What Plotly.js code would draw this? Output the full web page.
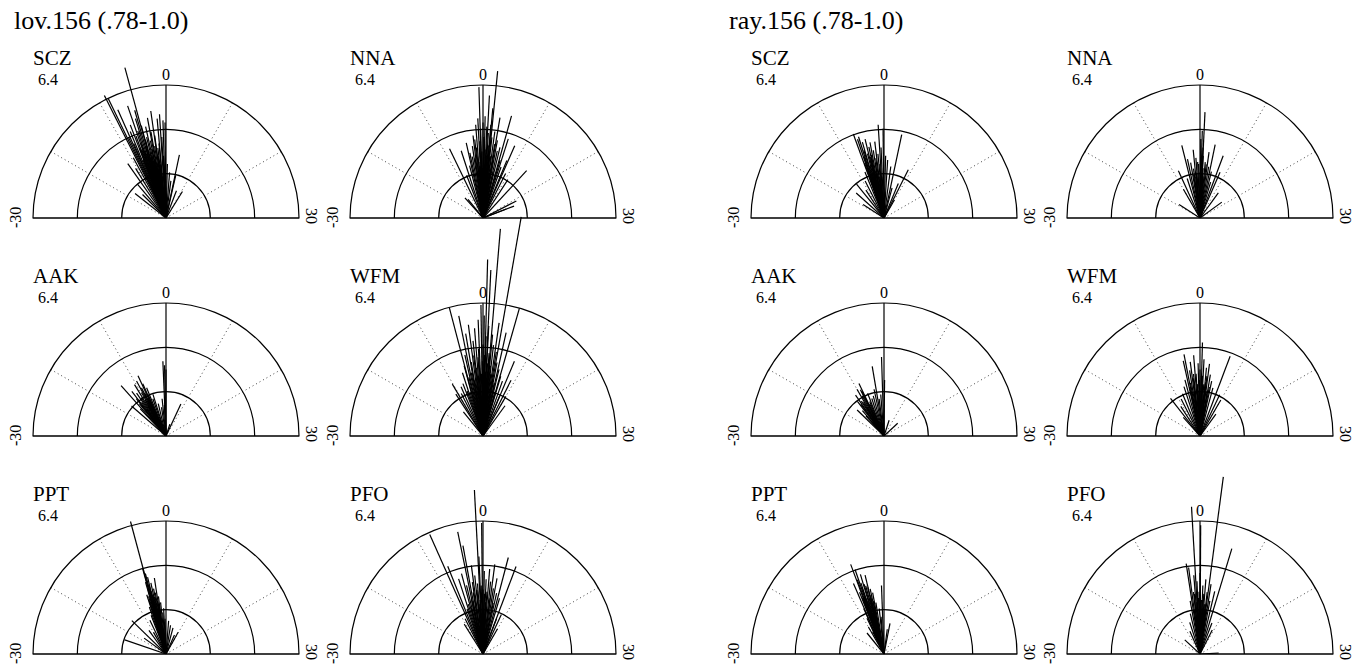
<!DOCTYPE html>
<html>
<head>
<meta charset="utf-8">
<script src="https://cdn.plot.ly/plotly-3.0.1.min.js"></script>
<style>html,body{margin:0;padding:0;background:#fff;}#chart{width:1366px;height:667px;}</style>
</head>
<body>
<div id="chart"></div>
<script>
// ---------------- data ----------------
const groupTitles = ['lov.156 (.78-1.0)', 'ray.156 (.78-1.0)'];
const stationRows = [['SCZ', 'NNA'], ['AAK', 'WFM'], ['PPT', 'PFO']];
const angleGrid = [-20, -10, 10, 20];
const angleTickLabels = ['-30', '0', '30'];
const scaleLabel = '6.4';
const RMAX = 6.4;

// lov panels: stick angle (deg, -30..30) and length
const lovSCZ_ang = [-5.1,-8.9,-8.6,-8.0,-6.3,-5.4,-1.2,-0.6,-0.2,-1.7,-7.5,-7.0,-6.7,-6.0,-5.7,-5.0,-4.5,-4.2,-3.8,-3.3,-3.0,-2.6,-2.2,-1.8,-7.8,-8.3,-6.5,-5.5,-4.8,-4.0,-9.5,-10.5,-11.7,-13.4,-17.2,-15.0,-0.8,0.5,1.5,4.0,4.3,10.6,7.0,2.5,-1.0,-2.0,-2.7,-3.5,-6.2,-5.9,-5.3,-4.9,-4.6,-4.3,-3.9,-3.6,-6.9,-7.2,-5.1,-4.1,-3.1,-2.4,-6.4,-5.6];
const lovSCZ_r   = [7.5,6.6,6.4,5.7,5.7,5.4,5.0,4.7,4.6,4.8,4.5,4.8,4.2,4.4,5.0,4.6,4.0,4.5,3.8,4.2,3.5,4.0,3.4,3.6,3.9,4.3,3.5,3.2,3.0,2.8,3.3,2.8,3.2,2.1,1.9,1.6,3.0,2.6,2.2,3.1,2.1,1.5,1.4,1.8,3.9,2.6,5.2,4.9,3.8,3.4,3.6,3.9,3.3,3.1,3.4,2.9,3.6,3.0,2.7,2.4,2.6,3.0,2.5,2.2];

const lovNNA_ang = [1.9,-0.6,1.0,1.7,3.2,5.2,7.9,5.9,14.2,21,23,23,-8.6,-6.0,-4.2,-12.9,-14,-2.3,-1.5,-1.0,-0.5,0,0.4,0.8,1.2,1.6,2.1,2.6,3.0,3.5,4.0,4.5,-2.0,-2.8,-3.3,-3.8,-4.8,5.5,6.5,7.5,9.0,-0.3,1.0,2.0,-1.2,11,-7,-1.8,-0.8,0.2,0.6,1.4,1.8,2.4,-2.5,-1.4,0.9,3.2,-0.2,2.8,4.2];
const lovNNA_r   = [7.1,6.3,5.9,5.3,4.9,5.1,3.8,4.0,3.1,1.8,1.6,1.2,3.7,3.4,3.7,1.15,1.3,4.0,4.5,4.8,4.3,4.6,4.9,4.4,4.1,4.5,3.9,4.2,3.6,3.8,3.3,3.5,3.8,3.5,3.0,3.2,2.6,2.9,2.6,3.0,2.4,3.2,3.0,2.8,2.5,2.2,2.2,3.4,3.7,3.9,3.3,3.5,3.1,3.0,2.9,2.7,2.6,2.8,2.4,2.2,2.3];

const lovAAK_ang = [-0.8,-0.4,0,-8.3,-13.9,-9.4,-8.0,-5.8,-16.3,8.3,6,-9,-10.5,-11.5,-12.5,-8.8,-7.3,-6.5,-10,-12,-14.5,-4.5,-3,-2,-1,-9.8,-11,-12.8,-10.2,-8.5,-7.8,-13.2,-9.2,-11.8];
const lovAAK_r   = [3.6,3.4,3.2,3.2,3.25,3.0,2.75,2.1,2.2,1.7,0.6,2.6,2.9,2.5,2.7,2.3,2.5,1.9,2.0,2.0,1.8,1.6,1.4,1.8,1.5,2.4,2.2,2.3,1.7,2.0,2.1,2.0,1.9,1.6];

const lovWFM_ang = [3.3,1.6,0.5,0.9,-4.9,5.3,-0.3,-3.8,-3.2,4.2,2.7,7.6,8.9,-10.2,-11,-2.5,-1.5,-0.8,0.2,1.0,1.8,2.2,-2.0,-1.0,0,0.6,1.4,3.0,3.6,4.5,5.5,6.5,-4.2,-5.0,-6.0,-7.0,-8.0,-9.0,-3.0,-1.8,0.8,2.0,-0.5,10,12,-13,7.5,-5.5,-2.2,-1.2,-0.2,0.4,1.2,1.6,2.4,-3.5,-4.5,3.3,4.0,-2.8,-1.5,0.1,1.1,-6.5,5.0];
const lovWFM_r   = [10.7,10.0,8.5,8.0,6.4,6.4,6.3,5.9,5.0,5.1,5.5,3.9,3.0,2.9,2.4,5.4,5.2,5.6,5.8,5.3,4.9,4.4,4.6,4.2,4.4,4.8,4.0,4.1,3.6,3.3,3.0,2.8,4.0,3.5,3.2,2.7,2.6,2.3,3.6,3.3,3.1,3.4,3.0,2.2,1.8,1.5,2.1,2.2,3.9,3.8,3.6,3.9,3.5,3.7,3.0,3.1,2.9,2.8,2.6,2.7,2.9,2.6,2.4,2.3,2.2];

const lovPPT_ang = [-5.0,-5.1,-4.8,-5.3,-4.5,-4.0,-3.6,-2.9,-3.3,-2.5,-2.0,-6.0,-5.8,-4.2,-3.0,-1.5,-1.0,-0.5,-7.0,-8.5,-15.2,-23.7,-12,-18,-10,9.7,8,5,3,1.5,-6.5,-5.5,-4.6,-4.4,-3.8,-3.1,-5.6,-5.2,-2.7,-3.5,-4.9];
const lovPPT_r   = [6.6,4.3,4.0,3.6,3.8,3.5,3.2,3.7,3.0,2.8,2.5,3.0,2.7,2.9,2.3,2.0,2.2,1.7,2.0,1.8,2.3,2.1,1.4,1.3,1.2,1.2,1.0,1.3,1.4,1.6,2.4,2.1,3.4,3.1,2.8,2.6,2.9,3.2,2.4,2.2,2.6];

const lovPFO_ang = [-1.0,-0.2,-8.0,-3.9,-3.5,4.9,6.9,2.5,-7.3,-6.0,-5.0,-4.5,-2.5,-2.0,-1.5,-0.8,0.3,0.8,1.5,2.0,3.0,3.5,4.2,5.5,-3,-4,-5.5,-6.5,8.3,7.0,-10.7,-9,-1,1,0,10,-2.8,-1.8,-0.5,0.5,1.2,2.4,-3.6,-4.8,3.8,-1.2,0.2];
const lovPFO_r   = [7.9,6.3,6.3,6.0,5.3,4.8,4.5,4.35,4.55,3.8,4.0,3.4,4.3,3.8,3.4,4.7,4.0,3.6,4.1,3.5,3.2,3.7,3.0,2.8,3.0,2.7,2.5,2.3,2.1,1.8,1.7,1.9,2.6,2.5,3.1,1.4,3.5,3.1,3.3,2.9,3.0,2.7,2.6,2.3,2.5,2.4,2.2];

// ray panels
const raySCZ_ang = [-1.2,-0.2,-6.7,-6.2,-5.8,-5.3,-4.5,-4.0,-3.5,-3.0,-2.3,-1.8,-0.8,0.5,1.2,4.0,2.5,8.9,7.5,-13,-16,-11,-9,-7.5,-6.5,-5,-4.3,-3.3,-2,10,-19,5,-5.5,-4.8,-4.2,-3.8,-3.0,-2.6,-6,-1.5,-5.0];
const raySCZ_r   = [4.5,4.3,4.3,4.0,4.1,3.8,3.9,3.5,3.7,3.3,3.7,3.1,3.4,3.0,2.8,4.1,2.5,2.6,1.8,2.1,1.8,1.6,2.0,2.4,2.8,2.6,2.9,2.2,2.0,1.0,1.2,1.5,3.4,3.2,3.0,3.1,2.7,2.9,3.1,2.6,2.2];

const rayNNA_ang = [0.9,0.5,0.2,-4.7,-1.9,3.9,6.8,-8.2,-4,-3.2,-2.5,-1.3,-0.5,1.0,1.8,2.6,3.2,4.6,7.9,18,-19,-6,-10,12,-2,0,1.4,5.5,-0.8,0.4,1.2,2.2,-1.6,-2.8,0.8];
const rayNNA_r   = [5.1,4.2,3.8,3.6,3.3,3.6,3.2,2.5,2.9,2.7,2.4,2.9,2.6,3.0,2.7,3.2,2.5,2.3,2.4,1.3,1.2,2.0,1.6,1.5,2.0,2.2,2.0,1.8,2.7,2.9,2.4,2.6,2.2,2.1,3.4];

const rayAAK_ang = [-0.6,0.2,-3.2,-8.5,-9,-10,-11.6,-12.5,-15.3,-13.5,-7,-6,-5,-4,-2.5,-1.5,-14,-10.5,15.7,6,-8,-9.5,-11,-8.8,-10.2,-12,-7.5];
const rayAAK_r   = [3.8,2.7,3.4,2.8,2.5,2.6,2.4,2.1,1.8,1.6,2.2,1.9,2.0,2.3,1.8,2.0,1.3,1.9,0.9,0.8,1.7,2.2,2.0,2.4,1.6,1.9,1.8];

const rayWFM_ang = [0.5,-3.7,-4.2,6.9,-2.5,-1.5,-0.5,1.0,1.8,2.5,3.2,-3,-2,0,0.8,4,5,-5,-6,-7.5,-12.7,10,8.5,-9,-11,-1,2,3,-4,12,-14,-2.2,-1.2,-0.2,0.4,1.4,2.2,-3.4,3.6,-0.8,0.9,-2.6,1.9];
const rayWFM_r   = [4.5,4.0,3.7,4.1,3.6,3.9,3.5,3.7,3.3,3.5,3.0,3.2,3.0,3.2,2.9,2.7,2.4,2.8,2.5,2.2,2.3,2.0,2.2,2.0,1.7,2.5,2.6,2.2,2.4,1.3,1.2,2.8,3.0,2.7,2.9,2.5,2.9,2.6,2.4,2.2,2.3,2.1,2.0];

const rayPPT_ang = [-6.8,-6.3,-7.8,-4.5,-5.5,-6.0,-5.0,-4.0,-3.5,-7.2,-6.5,-5.8,-4.8,-3.0,-2.0,-0.7,3.7,2.5,-13,-10,-8.5,-8,-1.5,-9,-5,-4,-6.6,-6.1,-5.3,-4.6,-7.0,-5.9,-3.8,-4.3];
const rayPPT_r   = [4.6,4.3,3.7,3.9,4.0,3.6,3.4,3.2,3.0,3.2,2.9,2.6,2.8,2.5,2.2,3.3,1.5,1.2,1.3,1.5,1.9,2.4,1.8,1.2,2.0,1.7,3.8,3.4,3.5,3.3,2.9,2.8,2.6,2.9];

const rayPFO_ang = [2.5,-1.1,0.1,5.6,-2.9,-2.5,4.4,-1.5,-0.8,0,0.8,1.5,2.2,3.0,-2,-1,0.5,1.2,2.0,3.5,-3.5,-4.5,-15.7,29,7,9,-8,-6,-0.3,1,-1.8,-1.2,-0.5,0.3,0.9,1.7,2.6,-2.4,0.1,1.3];
const rayPFO_r   = [8.6,7.1,6.2,5.3,4.4,4.2,3.1,3.8,3.5,3.9,3.3,3.6,3.0,3.4,3.0,2.8,2.6,2.9,2.4,2.6,2.6,2.0,1.0,0.9,1.6,1.3,1.2,1.6,3.0,2.2,2.9,2.5,2.7,2.3,2.6,2.4,2.2,2.1,2.9,2.0];

const panelData = [
  {g: 0, row: 0, col: 0, ang: lovSCZ_ang, r: lovSCZ_r},
  {g: 0, row: 0, col: 1, ang: lovNNA_ang, r: lovNNA_r},
  {g: 0, row: 1, col: 0, ang: lovAAK_ang, r: lovAAK_r},
  {g: 0, row: 1, col: 1, ang: lovWFM_ang, r: lovWFM_r},
  {g: 0, row: 2, col: 0, ang: lovPPT_ang, r: lovPPT_r},
  {g: 0, row: 2, col: 1, ang: lovPFO_ang, r: lovPFO_r},
  {g: 1, row: 0, col: 0, ang: raySCZ_ang, r: raySCZ_r},
  {g: 1, row: 0, col: 1, ang: rayNNA_ang, r: rayNNA_r},
  {g: 1, row: 1, col: 0, ang: rayAAK_ang, r: rayAAK_r},
  {g: 1, row: 1, col: 1, ang: rayWFM_ang, r: rayWFM_r},
  {g: 1, row: 2, col: 0, ang: rayPPT_ang, r: rayPPT_r},
  {g: 1, row: 2, col: 1, ang: rayPFO_ang, r: rayPFO_r}
];

// ---------------- layout geometry ----------------
const W = 1366, H = 667, R = 133;
const centersX = [[166, 483], [884, 1200]];
const baselinesY = [218, 436, 654];
const titleX = [12, 727];
const FONT = '"Liberation Serif", "Times New Roman", serif';
const ANG_SCALE = 90 / 30;          // data degrees -> display degrees
const EXT_SECTOR = [45, 135];        // wedge used for sticks longer than the outer circle
const EXT_HALF = Math.cos(Math.PI / 4);

const px = x => x / W;
const py = y => (H - y) / H;

const data = [];
const layout = {
  width: W, height: H,
  margin: {l: 0, r: 0, t: 0, b: 0},
  paper_bgcolor: '#fff',
  showlegend: false,
  annotations: [],
  shapes: []
};

function ann(text, x, y, opts) {
  layout.annotations.push(Object.assign({
    text: text, x: px(x), y: py(y), xref: 'paper', yref: 'paper',
    showarrow: false, xanchor: 'center', yanchor: 'middle',
    font: {family: FONT, size: 16, color: '#000'}
  }, opts || {}));
}

groupTitles.forEach((t, g) => ann(t, titleX[g], 21, {xanchor: 'left', font: {family: FONT, size: 26, color: '#000'}}));

const frameAngular = {
  rotation: 90, direction: 'clockwise', thetaunit: 'degrees',
  tickmode: 'array', tickvals: angleGrid.map(a => a * ANG_SCALE),
  showticklabels: false, ticks: '',
  showline: true, linecolor: '#000', linewidth: 1.2,
  showgrid: true, gridcolor: '#444', gridwidth: 1, griddash: '1px,3px',
  layer: 'below traces'
};
const hiddenAngular = {
  rotation: 90, direction: 'clockwise', thetaunit: 'degrees',
  showticklabels: false, ticks: '', showline: false, showgrid: false
};

function sticks(ang, rr, keep) {
  const r = [], theta = [];
  ang.forEach((a, k) => {
    if (!keep(rr[k])) return;
    r.push(0, rr[k], null);
    theta.push(0, a * ANG_SCALE, null);
  });
  return {r: r, theta: theta};
}

panelData.forEach((p, i) => {
  const idF = i === 0 ? 'polar' : 'polar' + (2 * i + 1);
  const idE = 'polar' + (2 * i + 2);
  const cx = centersX[p.g][p.col];
  const by = baselinesY[p.row];
  const top = by - R;

  // frame polar: exact semicircle, grid + sticks inside the outer circle
  const s1 = sticks(p.ang, p.r, v => v <= RMAX);
  data.push({type: 'scatterpolar', subplot: idF, mode: 'lines', r: s1.r, theta: s1.theta,
    line: {color: '#000', width: 1.2}, hoverinfo: 'skip'});
  layout[idF] = {
    domain: {x: [px(cx - R), px(cx + R)], y: [py(by), py(top)]},
    sector: [0, 180],
    bgcolor: 'rgba(0,0,0,0)',
    angularaxis: frameAngular,
    radialaxis: {
      range: [0, RMAX], angle: 90,
      tickmode: 'array', tickvals: [RMAX / 3, 2 * RMAX / 3],
      showticklabels: false, ticks: '',
      showline: true, linecolor: '#000', linewidth: 1.2,
      showgrid: true, gridcolor: '#000', gridwidth: 1.2,
      layer: 'below traces'
    }
  };

  // extended polar: same centre and scale, larger radius for long sticks
  const extR = Math.min(by - 2, (cx - 2) / EXT_HALF, (W - cx - 2) / EXT_HALF);
  const s2 = sticks(p.ang, p.r, v => v > RMAX);
  data.push({type: 'scatterpolar', subplot: idE, mode: 'lines', r: s2.r, theta: s2.theta,
    line: {color: '#000', width: 1.2}, hoverinfo: 'skip'});
  layout[idE] = {
    domain: {x: [px(cx - extR * EXT_HALF), px(cx + extR * EXT_HALF)], y: [py(by), py(by - extR)]},
    sector: EXT_SECTOR,
    bgcolor: 'rgba(0,0,0,0)',
    angularaxis: hiddenAngular,
    radialaxis: {range: [0, RMAX * extR / R], showline: false, showgrid: false,
      showticklabels: false, ticks: ''}
  };

  layout.shapes.push({type: 'line', xref: 'paper', yref: 'paper',
    x0: px(cx - R), x1: px(cx + R), y0: py(by), y1: py(by),
    line: {color: '#000', width: 1.2}});
  const st = stationRows[p.row][p.col];
  ann(st, cx - R - 2, top - 27, {xanchor: 'left', font: {family: FONT, size: 21, color: '#000'}});
  ann(scaleLabel, cx - R + 3, top - 6, {xanchor: 'left', font: {family: FONT, size: 16, color: '#000'}});
  ann(angleTickLabels[1], cx, top - 11, {font: {family: FONT, size: 16, color: '#000'}});
  ann(angleTickLabels[0], cx - R - 18, by, {textangle: -90});
  ann(angleTickLabels[2], cx + R + 13, by - 2, {textangle: 90});
});

Plotly.newPlot('chart', data, layout, {staticPlot: true, displayModeBar: false});
</script>
</body>
</html>
